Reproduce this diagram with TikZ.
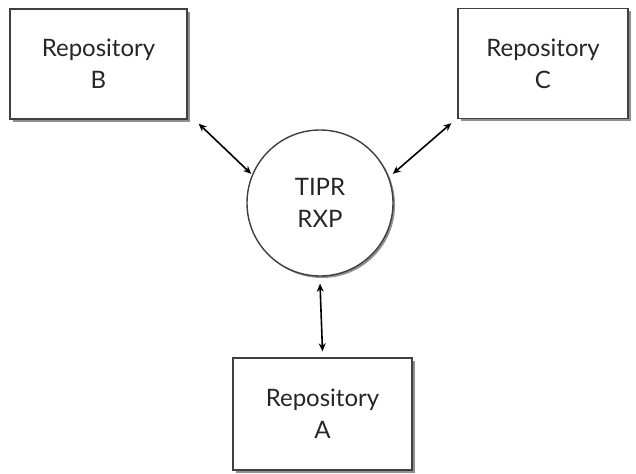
\documentclass[tikz,border=0pt]{standalone}
\usepackage{fontspec}
\setmainfont{Lato}
\usetikzlibrary{arrows.meta,shadows}

\tikzset{
    repo/.style={draw=black!75, line width=1.4pt, fill=white, minimum width=177pt, minimum height=110pt,
        align=center, text=black!85, font=\fontsize{24}{32}\selectfont,
        drop shadow={shadow xshift=3pt, shadow yshift=-3pt, fill=black!55, opacity=0.8}},
    hub/.style={circle, draw=black!75, line width=1.4pt, fill=white, minimum size=146pt, inner sep=0pt,
        align=center, text=black!85, font=\fontsize{24}{32}\selectfont,
        drop shadow={shadow xshift=2pt, shadow yshift=-2pt, fill=black!55, opacity=0.8}},
    link/.style={{Stealth[length=8pt,width=7pt]}-{Stealth[length=8pt,width=7pt]}, line width=1.6pt}
}

\begin{document}
\begin{tikzpicture}[x=1pt,y=-1pt]

\useasboundingbox (0,0) rectangle (636,473);

\node[hub] (rxp) at (320,203) {TIPR\\RXP};

\node[repo] (repoB) at (98.5,64) {Repository\\B};
\node[repo, minimum width=170pt] (repoC) at (543,63.5) {Repository\\C};
\node[repo, minimum width=179pt, minimum height=112pt] (repoA) at (322.5,414) {Repository\\A};

% links to the exchange point
\draw[link] ([xshift=11pt,yshift=-4pt]repoB.south east) -- ([xshift=-2pt,yshift=-2pt]rxp.155);
\draw[link] ([xshift=-6pt,yshift=-4pt]repoC.south west) -- ([xshift=6pt,yshift=-2pt]rxp.25);
\draw[link] ([yshift=-7pt]rxp.south) -- ([yshift=6pt]repoA.north);

\end{tikzpicture}
\end{document}
